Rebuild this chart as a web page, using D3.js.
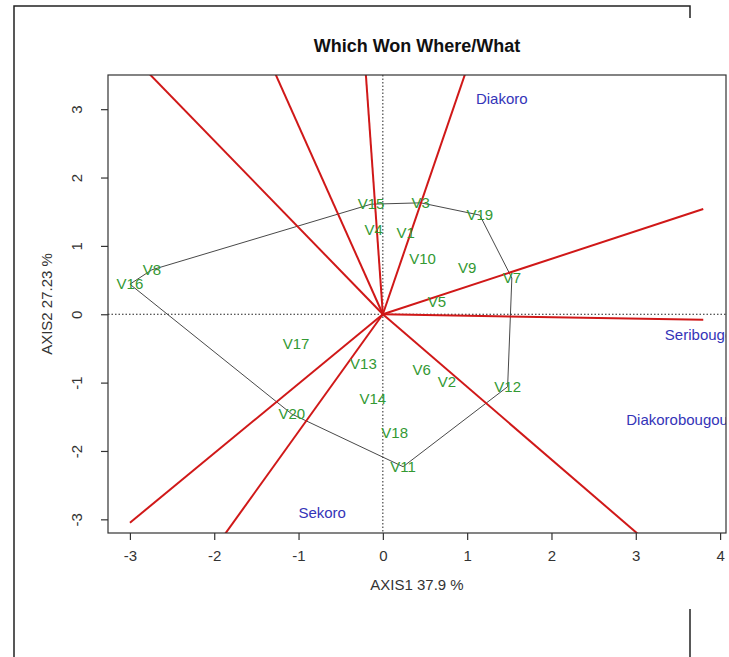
<!DOCTYPE html>
<html>
<head>
<meta charset="utf-8">
<script src="https://cdn.jsdelivr.net/npm/d3@7"></script>
<style>
  body { margin: 0; background: #fff; }
  text { font-family: "Liberation Sans", Arial, sans-serif; }
</style>
</head>
<body>
<div id="chart"></div>
<script>
// genotypes (green labels)
var genotypes = ['V1','V2','V3','V4','V5','V6','V7','V8','V9','V10',
                 'V11','V12','V13','V14','V15','V16','V17','V18','V19','V20'];
var genoX = [0.27, 0.76, 0.45, -0.11, 0.64, 0.46, 1.53, -2.74, 1.00, 0.47,
             0.24, 1.48, -0.23, -0.12, -0.14, -3.00, -1.03, 0.14, 1.15, -1.08];
var genoY = [1.19, -0.99, 1.63, 1.23, 0.18, -0.82, 0.53, 0.65, 0.68, 0.81,
             -2.23, -1.06, -0.73, -1.24, 1.61, 0.44, -0.43, -1.74, 1.45, -1.46];

// environments (blue labels)
var envs = ['Diakoro', 'Seribougou', 'Diakorobougou', 'Sekoro'];
var envX = [1.41, 3.80, 3.49, -0.72];
var envY = [3.15, -0.31, -1.55, -2.91];

// sector rays from origin, end points
var rayX = [-3.15, -1.45, -0.23, 1.11, 3.80, 3.80, 3.20, -1.98, -3.00];
var rayY = [4.00, 4.00, 4.00, 4.00, 1.54, -0.08, -3.40, -3.40, -3.05];

var xTicks = [-3, -2, -1, 0, 1, 2, 3, 4];
var yTicks = [-3, -2, -1, 0, 1, 2, 3];

var title = 'Which Won Where/What';
var xLabel = 'AXIS1 37.9 %';
var yLabel = 'AXIS2 27.23 %';

//Colours
var $red = '#d01818';
var $green = '#339933';
var $blue = '#3434b8';
var $grey = '#333';

var W = 729, H = 657;
var pLeft = 108, pRight = 726, pTop = 75, pBottom = 533;

var x = d3.scaleLinear().domain([-3.26, 4.07]).range([pLeft, pRight]);
var y = d3.scaleLinear().domain([-3.2, 3.5]).range([pBottom, pTop]);

var svg = d3.select('#chart').append('svg')
    .attr('width', W)
    .attr('height', H)
    .style('background', '#fff');

svg.append('defs').append('clipPath')
    .attr('id', 'plotClip')
    .append('rect')
    .attr('x', pLeft).attr('y', pTop)
    .attr('width', pRight - pLeft).attr('height', pBottom - pTop);

//outer frame fragments
var frame = svg.append('g').attr('stroke', '#222').attr('stroke-width', 1.5).attr('fill', 'none');
frame.append('path').attr('d', 'M14,657 L14,6 L690,6 L690,18');
frame.append('path').attr('d', 'M690,609 L690,657');

var plot = svg.append('g').attr('clip-path', 'url(#plotClip)');

//dotted reference lines
plot.append('line')
    .attr('x1', pLeft).attr('x2', pRight)
    .attr('y1', y(0)).attr('y2', y(0))
    .attr('stroke', '#222').attr('stroke-dasharray', '1.5,2');
plot.append('line')
    .attr('x1', x(0)).attr('x2', x(0))
    .attr('y1', pTop).attr('y2', pBottom)
    .attr('stroke', '#222').attr('stroke-dasharray', '1.5,2');

//convex hull of genotypes
var pts = genotypes.map(function(d, i) { return [x(genoX[i]), y(genoY[i])]; });
var hull = d3.polygonHull(pts);
plot.append('path')
    .attr('d', 'M' + hull.join('L') + 'Z')
    .attr('fill', 'none')
    .attr('stroke', $grey)
    .attr('stroke-width', 0.9);

//rays
plot.selectAll('line.ray')
    .data(rayX)
    .enter().append('line')
    .attr('class', 'ray')
    .attr('x1', x(0)).attr('y1', y(0))
    .attr('x2', function(d) { return x(d); })
    .attr('y2', function(d, i) { return y(rayY[i]); })
    .attr('stroke', $red)
    .attr('stroke-width', 2);

//genotype labels
plot.selectAll('text.geno')
    .data(genotypes)
    .enter().append('text')
    .attr('class', 'geno')
    .attr('x', function(d, i) { return x(genoX[i]); })
    .attr('y', function(d, i) { return y(genoY[i]) + 5; })
    .attr('text-anchor', 'middle')
    .attr('font-size', 15)
    .attr('fill', $green)
    .text(function(d) { return d; });

//environment labels
plot.selectAll('text.env')
    .data(envs)
    .enter().append('text')
    .attr('class', 'env')
    .attr('x', function(d, i) { return x(envX[i]); })
    .attr('y', function(d, i) { return y(envY[i]) + 5; })
    .attr('text-anchor', 'middle')
    .attr('font-size', 15)
    .attr('fill', $blue)
    .text(function(d) { return d; });

//plot box
svg.append('rect')
    .attr('x', pLeft).attr('y', pTop)
    .attr('width', pRight - pLeft).attr('height', pBottom - pTop)
    .attr('fill', 'none').attr('stroke', '#333').attr('stroke-width', 1.2);

//axes
var fmt = function(d) { return String(d); };

var xAxis = svg.append('g')
    .attr('transform', 'translate(0,' + pBottom + ')')
    .call(d3.axisBottom(x).tickValues(xTicks).tickSize(7).tickPadding(10).tickFormat(fmt));
xAxis.select('.domain').remove();

var yAxis = svg.append('g')
    .attr('transform', 'translate(' + pLeft + ',0)')
    .call(d3.axisLeft(y).tickValues(yTicks).tickSize(7).tickFormat(fmt));
yAxis.select('.domain').remove();
yAxis.selectAll('.tick text')
    .attr('x', null).attr('dy', null).attr('y', null)
    .attr('text-anchor', 'middle')
    .attr('transform', 'translate(-26,0) rotate(-90)');

svg.selectAll('.tick line').attr('stroke', '#333').attr('stroke-width', 1.2);
svg.selectAll('.tick text')
    .attr('font-family', '"Liberation Sans", Arial, sans-serif')
    .attr('font-size', 15)
    .attr('fill', '#333');

//title and axis labels
svg.append('text')
    .attr('x', (pLeft + pRight) / 2).attr('y', 52)
    .attr('text-anchor', 'middle')
    .attr('font-size', 18).attr('font-weight', 'bold')
    .attr('fill', '#111')
    .text(title);

svg.append('text')
    .attr('x', (pLeft + pRight) / 2).attr('y', 590)
    .attr('text-anchor', 'middle')
    .attr('font-size', 15).attr('fill', '#333')
    .text(xLabel);

svg.append('text')
    .attr('transform', 'translate(52,' + (pTop + pBottom) / 2 + ') rotate(-90)')
    .attr('text-anchor', 'middle')
    .attr('font-size', 15).attr('fill', '#333')
    .text(yLabel);
</script>
</body>
</html>
